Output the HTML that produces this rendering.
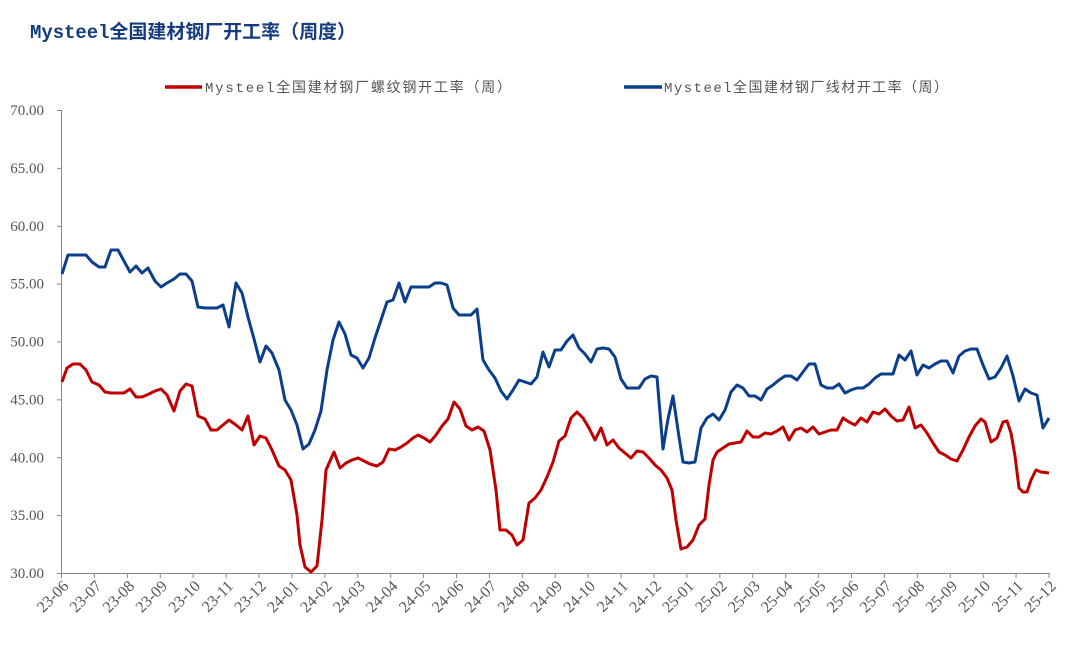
<!DOCTYPE html>
<html><head><meta charset="utf-8"><style>
html,body{margin:0;padding:0;background:#fff;}
svg{display:block;}
.yl{font-family:"Liberation Serif",serif;font-size:15px;fill:#555;text-anchor:end;}
.xl{font-family:"Liberation Serif",serif;font-size:16px;fill:#555;text-anchor:end;}
.lg{font-family:"Liberation Mono","Noto Sans CJK SC",monospace;font-size:14px;fill:#555;}
</style></head><body>
<svg width="1080" height="659" viewBox="0 0 1080 659" xmlns="http://www.w3.org/2000/svg">
<text x="30" y="38" textLength="326" style="font-family:'Liberation Mono','Noto Sans CJK SC',monospace;font-weight:bold;font-size:19px;fill:#163c7e;">Mysteel全国建材钢厂开工率（周度）</text>
<line x1="165" y1="87" x2="202" y2="87" stroke="#c00000" stroke-width="3.5"/>
<text class="lg" x="205" y="92" textLength="306">Mysteel全国建材钢厂螺纹钢开工率（周）</text>
<line x1="624" y1="87" x2="662" y2="87" stroke="#0b3f8c" stroke-width="3.5"/>
<text class="lg" x="664" y="92" textLength="284">Mysteel全国建材钢厂线材开工率（周）</text>
<g stroke="#888" stroke-width="1" fill="none">
<line x1="61.5" y1="110" x2="61.5" y2="573"/>
<line x1="61" y1="573.5" x2="1050" y2="573.5"/>
</g>
<g id="yt"></g>
<g id="xt"></g>
<polyline fill="none" stroke="#c00000" stroke-width="3" stroke-linejoin="round" points="62,382 67,368 73,364 80,364 86,370 92,382 99,385 105,392 111,393 118,393 124,393 130,389 136,397 142,397 149,394 155,391 161,389 167,395 174,411 180,391 186,384 192,386 198,416 205,419 211,430 217,430 223,425 229,420 236,425 242,430 248,416 254,445 260,436 266,438 272,450 279,466 285,470 291,480 297,515 300,545 305,567 311,572 317,566 322,520 326,470 334,452 340,468 346,463 352,460 358,458 364,461 370,464 377,466 383,462 389,449 395,450 401,447 407,443 413,438 418,435 424,438 430,442 436,435 442,426 448,419 454,402 460,409 466,426 472,430 478,427 484,431 490,450 496,490 500,530 506,530 512,535 517,545 523,540 529,503 535,498 541,490 547,477 553,462 559,441 565,436 571,418 577,412 583,418 589,428 595,440 601,428 607,445 613,440 619,448 625,453 631,458 637,451 643,452 649,458 655,465 661,470 667,478 672,490 676,520 681,549 687,547 693,540 699,525 705,519 709,485 713,460 717,452 723,448 729,444 735,443 741,442 747,431 753,437 759,437 765,433 771,434 777,431 783,427 789,440 795,430 801,428 807,432 813,427 819,434 825,432 831,430 837,430 843,418 849,422 855,425 861,418 867,422 873,412 879,414 885,409 891,416 897,421 903,420 909,407 915,428 921,425 927,433 933,443 939,452 945,455 951,459 957,461 963,450 969,437 975,426 981,419 985,422 991,442 997,438 1003,422 1007,421 1011,433 1015,456 1019,488 1023,492 1027,492 1031,480 1036,470 1041,472 1049,473"/>
<polyline fill="none" stroke="#0b3f8c" stroke-width="3" stroke-linejoin="round" points="62,274 68,255 74,255 80,255 86,255 92,262 99,267 105,267 111,250 118,250 124,261 130,272 136,266 142,273 148,268 155,281 161,287 167,283 174,279 180,274 186,274 192,281 198,307 205,308 211,308 217,308 223,305 229,327 236,283 242,293 248,317 254,339 260,362 266,346 272,353 279,370 285,400 291,410 297,425 303,449 309,444 315,430 321,411 327,370 333,340 339,322 345,334 351,355 357,358 363,368 369,358 375,338 381,320 387,302 393,300 399,283 405,302 411,287 417,287 423,287 429,287 435,283 441,283 447,285 453,308 459,315 465,315 471,315 477,309 483,360 489,370 495,378 501,391 507,399 513,390 519,380 525,382 531,384 537,377 543,352 549,367 555,350 561,350 567,341 573,335 579,348 585,354 591,362 597,349 603,348 609,349 615,357 621,379 627,388 633,388 639,388 645,379 651,376 657,377 663,449 668,419 673,396 679,437 683,462 689,463 695,462 701,428 707,418 713,414 719,420 725,410 731,392 737,385 743,388 749,396 755,396 761,400 767,389 773,385 779,380 785,376 791,376 797,380 803,372 809,364 815,364 821,385 827,388 833,388 839,384 845,393 851,390 857,388 863,388 869,384 875,378 881,374 887,374 893,374 899,355 905,360 911,351 917,375 923,365 929,368 935,364 941,361 947,361 953,373 959,356 965,351 971,349 977,349 983,365 989,379 995,377 1001,368 1007,356 1013,376 1019,401 1025,389 1031,393 1037,395 1043,428 1049,418"/>
</svg>
<script>
var ns="http://www.w3.org/2000/svg";
var yt=document.getElementById("yt");
for(var i=0;i<=8;i++){var v=30+i*5;var y=573-(v-30)*11.575;
var l=document.createElementNS(ns,"line");l.setAttribute("x1",57);l.setAttribute("x2",61);l.setAttribute("y1",y+0.5);l.setAttribute("y2",y+0.5);l.setAttribute("stroke","#888");yt.appendChild(l);
var t=document.createElementNS(ns,"text");t.setAttribute("class","yl");t.setAttribute("x",44);t.setAttribute("y",y+5);t.textContent=v.toFixed(2);yt.appendChild(t);}
var xt=document.getElementById("xt");
var labs=[];for(var m=6;m<=12;m++)labs.push("23-"+(m<10?"0":"")+m);for(var m=1;m<=12;m++)labs.push("24-"+(m<10?"0":"")+m);for(var m=1;m<=12;m++)labs.push("25-"+(m<10?"0":"")+m);
for(var i=0;i<labs.length;i++){var x=61.5+i*(987.5/30);
var l=document.createElementNS(ns,"line");l.setAttribute("x1",x);l.setAttribute("x2",x);l.setAttribute("y1",573);l.setAttribute("y2",578);l.setAttribute("stroke","#888");xt.appendChild(l);
var t=document.createElementNS(ns,"text");t.setAttribute("class","xl");t.setAttribute("transform","translate("+(x+8)+",587) rotate(-45)");t.textContent=labs[i];xt.appendChild(t);}
</script>
</body></html>
